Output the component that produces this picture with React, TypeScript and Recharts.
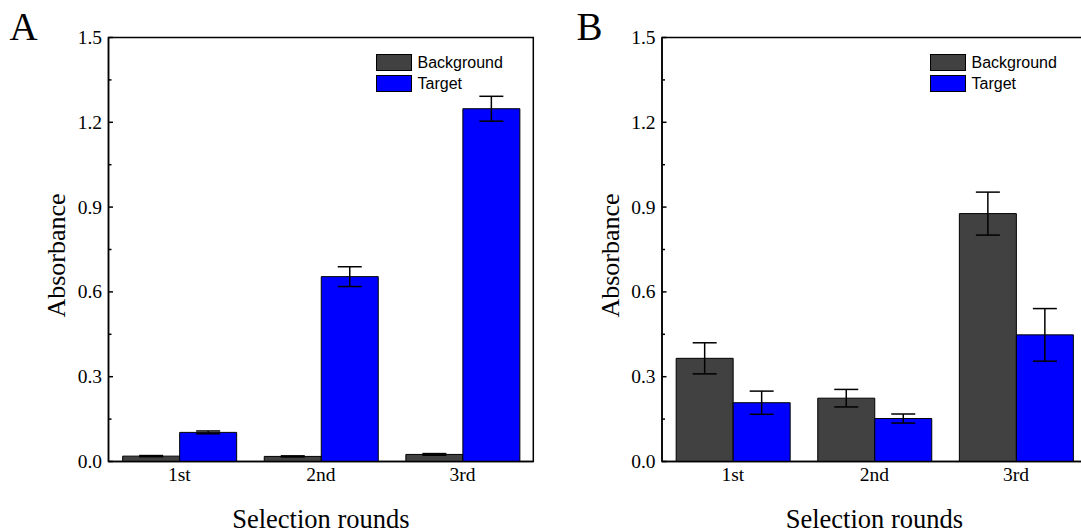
import React from "react"
import {
  BarChart,
  Bar,
  XAxis,
  YAxis,
  ErrorBar,
  Legend,
  Label,
  ReferenceArea,
} from "recharts"

const rounds = ["1st", "2nd", "3rd"]

// Panel A
const backgroundA = [0.019, 0.018, 0.025]
const backgroundErrA = [0.002, 0.002, 0.003]
const targetA = [0.103, 0.654, 1.248]
const targetErrA = [0.005, 0.035, 0.044]

// Panel B
const backgroundB = [0.365, 0.224, 0.877]
const backgroundErrB = [0.055, 0.031, 0.076]
const targetB = [0.208, 0.152, 0.448]
const targetErrB = [0.041, 0.016, 0.093]

const yTicks = [0, 0.15, 0.3, 0.45, 0.6, 0.75, 0.9, 1.05, 1.2, 1.35, 1.5]
const majorTicks = [0, 0.3, 0.6, 0.9, 1.2, 1.5]

const SERIF = '"Palatino Linotype", "Book Antiqua", Palatino, "Liberation Serif", serif'
const SANS = 'Arial, "Liberation Sans", sans-serif'
const GREY = "#414141"
const BLUE = "#0000FF"

function buildRows(bg: number[], bgErr: number[], tg: number[], tgErr: number[]) {
  return rounds.map((round, i) => ({
    round,
    background: bg[i],
    backgroundErr: bgErr[i],
    target: tg[i],
    targetErr: tgErr[i],
  }))
}

const dataA = buildRows(backgroundA, backgroundErrA, targetA, targetErrA)
const dataB = buildRows(backgroundB, backgroundErrB, targetB, targetErrB)

// inward ticks, labels only on the major ones
function YTick({ x, y, payload }: any) {
  const major = majorTicks.includes(payload.value)
  return (
    <g>
      <line x1={x} x2={x + (major ? 4.5 : 3)} y1={y} y2={y} stroke="#000" strokeWidth={1.5} />
      {major && (
        <text x={x - 6.5} y={y} dy={6.4} textAnchor="end" fontFamily={SERIF} fontSize={19.5} fill="#000">
          {payload.value.toFixed(1)}
        </text>
      )}
    </g>
  )
}

function XTick({ x, y, payload }: any) {
  return (
    <text x={x} y={y + 19.5} textAnchor="middle" fontFamily={SERIF} fontSize={19.5} fill="#000">
      {payload.value}
    </text>
  )
}

function YTitle({ viewBox }: any) {
  const axisX = viewBox.x + viewBox.width
  const cx = axisX - 43.1
  const cy = viewBox.y + viewBox.height / 2 + 6
  return (
    <text
      transform={`translate(${cx},${cy}) rotate(-90)`}
      textAnchor="middle"
      fontFamily={SERIF}
      fontSize={26}
      fill="#000"
    >
      Absorbance
    </text>
  )
}

function XTitle({ viewBox }: any) {
  return (
    <text
      x={viewBox.x + viewBox.width / 2}
      y={viewBox.y + 66}
      textAnchor="middle"
      fontFamily={SERIF}
      fontSize={26.5}
      fill="#000"
    >
      Selection rounds
    </text>
  )
}

function LegendBox({ payload }: any) {
  return (
    <div style={{ fontFamily: SANS, fontSize: 16, color: "#000" }}>
      {(payload || []).map((entry: any) => (
        <div
          key={entry.value}
          style={{ display: "flex", alignItems: "center", height: 17, marginBottom: 4 }}
        >
          <span
            style={{
              display: "inline-block",
              width: 36,
              height: 17,
              boxSizing: "border-box",
              border: "1px solid #000",
              background: entry.color,
            }}
          />
          <span style={{ marginLeft: 5.5, lineHeight: "17px" }}>{entry.value}</span>
        </div>
      ))}
    </div>
  )
}

interface PanelProps {
  data: ReturnType<typeof buildRows>
  marginLeft: number
  marginRight: number
  legendLeft: number
}

function Panel({ data, marginLeft, marginRight, legendLeft }: PanelProps) {
  return (
    <BarChart
      width={560}
      height={532}
      data={data}
      margin={{ top: 37.5, right: marginRight, bottom: 40.5, left: marginLeft }}
      barCategoryGap="10%"
      barGap={0}
    >
      {/* closed frame around the plot area */}
      <ReferenceArea
        y1={0}
        y2={1.5}
        fill="none"
        fillOpacity={0}
        stroke="#000"
        strokeWidth={1.5}
        ifOverflow="visible"
      />
      <XAxis
        dataKey="round"
        height={30}
        tickLine={false}
        tickSize={0}
        tickMargin={0}
        tick={<XTick />}
        axisLine={{ stroke: "#000", strokeWidth: 1.5 }}
      >
        <Label content={<XTitle />} />
      </XAxis>
      <YAxis
        type="number"
        domain={[0, 1.5]}
        ticks={yTicks}
        interval={0}
        width={60}
        tickLine={false}
        tickSize={0}
        tickMargin={0}
        tick={<YTick />}
        axisLine={{ stroke: "#000", strokeWidth: 1.5 }}
      >
        <Label content={<YTitle />} />
      </YAxis>
      <Legend
        layout="vertical"
        align="center"
        verticalAlign="middle"
        wrapperStyle={{ left: legendLeft, top: 54, width: "auto", height: "auto" }}
        content={<LegendBox />}
      />
      <Bar dataKey="background" name="Background" fill={GREY} stroke="#000" strokeWidth={1} isAnimationActive={false}>
        <ErrorBar dataKey="backgroundErr" width={12} stroke="#000" strokeWidth={1.5} isAnimationActive={false} />
      </Bar>
      <Bar dataKey="target" name="Target" fill={BLUE} stroke="#000" strokeWidth={1} isAnimationActive={false}>
        <ErrorBar dataKey="targetErr" width={12} stroke="#000" strokeWidth={1.5} isAnimationActive={false} />
      </Bar>
    </BarChart>
  )
}

export default function App() {
  return (
    <div
      style={{
        position: "absolute",
        left: 0,
        top: 0,
        width: 1081,
        height: 532,
        overflow: "hidden",
        background: "#fff",
      }}
    >
      <div style={{ position: "absolute", left: 0, top: 0 }}>
        <Panel data={dataA} marginLeft={48.5} marginRight={26.7} legendLeft={376} />
      </div>
      <div style={{ position: "absolute", left: 541, top: 0 }}>
        <Panel data={dataB} marginLeft={61} marginRight={14.2} legendLeft={389} />
      </div>
      <svg
        width={1081}
        height={532}
        style={{ position: "absolute", left: 0, top: 0, pointerEvents: "none" }}
      >
        <text x={9.5} y={39.6} fontFamily={SERIF} fontSize={39} fill="#000">
          A
        </text>
        <text x={576.5} y={39.6} fontFamily={SERIF} fontSize={39} fill="#000">
          B
        </text>
      </svg>
    </div>
  )
}
